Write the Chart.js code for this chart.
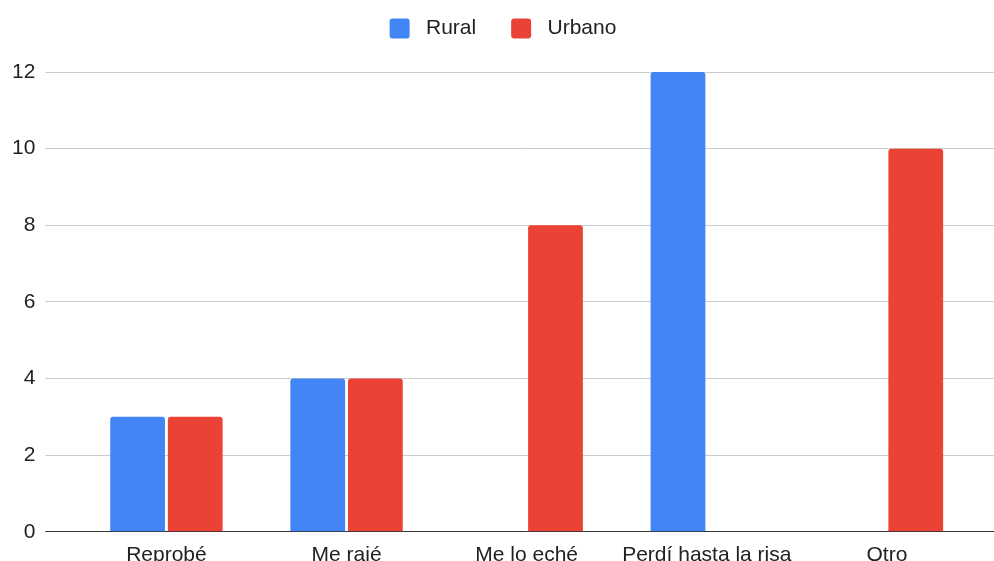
<!DOCTYPE html>
<html>
<head>
<meta charset="utf-8">
<script src="https://cdn.jsdelivr.net/npm/chart.js@4/dist/chart.umd.min.js"></script>
<style>
  html, body { margin: 0; padding: 0; background: #fff; overflow: hidden; }
  #wrap { width: 994px; height: 571px; position: relative; }
</style>
</head>
<body>
<div id="wrap"><canvas id="chart"></canvas></div>
<script>
const categories = ["Reprobé", "Me rajé", "Me lo eché", "Perdí hasta la risa", "Otro"];
const rural = [3, 4, null, 12, null];
const urbano = [3, 4, 8, null, 10];
const yTicks = [0, 2, 4, 6, 8, 10, 12];

const FONT = "Arial, 'Liberation Sans', sans-serif";
const gridColor = (c) => (c.tick && c.tick.value === 0 ? "#333333" : "#cccccc");

// extra room under the legend, and nudge it a bit right
const legendGap = {
  id: "legendGap",
  beforeInit(chart) {
    const fit = chart.legend.fit;
    chart.legend.fit = function () { fit.bind(chart.legend)(); this.height += 23; };
  },
  afterLayout(chart) {
    chart.legend.left += 5;
    chart.legend.right += 5;
  }
};

new Chart(document.getElementById("chart"), {
  type: "bar",
  data: {
    labels: categories,
    datasets: [
      { label: "Rural", data: rural, backgroundColor: "#4285f4",
        borderRadius: { topLeft: 3, topRight: 3 }, borderSkipped: "start" },
      { label: "Urbano", data: urbano, backgroundColor: "#ea4335",
        borderRadius: { topLeft: 3, topRight: 3 }, borderSkipped: "start" }
    ]
  },
  options: {
    responsive: true,
    maintainAspectRatio: false,
    animation: false,
    datasets: { bar: { categoryPercentage: 0.64, barPercentage: 0.95 } },
    layout: { padding: { left: 2, top: -17, right: 0, bottom: 0 } },
    plugins: {
      tooltip: { enabled: false },
      legend: {
        position: "top",
        align: "center",
        labels: {
          color: "#222222",
          font: { family: FONT, size: 21 },
          boxWidth: 20, boxHeight: 20,
          useBorderRadius: true, borderRadius: 3,
          padding: 35,
          generateLabels(chart) {
            return Chart.defaults.plugins.legend.labels.generateLabels(chart)
              .map(l => ({ ...l, text: " " + l.text }));
          }
        }
      }
    },
    scales: {
      x: {
        grid: { display: false },
        border: { display: false },
        ticks: { color: "#222222", font: { family: FONT, size: 21 }, padding: 3, maxRotation: 0, autoSkip: false }
      },
      y: {
        min: 0, max: 12,
        afterBuildTicks: (s) => { s.ticks = yTicks.map(v => ({ value: v })); },
        border: { display: false },
        grid: { color: gridColor, tickColor: gridColor, tickLength: 31 },
        ticks: { color: "#222222", font: { family: FONT, size: 21 }, padding: 10 }
      },
      y2: {
        position: "right",
        min: 0, max: 12,
        afterBuildTicks: (s) => { s.ticks = yTicks.map(v => ({ value: v })); },
        border: { display: false },
        grid: { drawOnChartArea: false, color: gridColor, tickColor: gridColor, tickLength: 17 },
        ticks: { display: false }
      }
    }
  },
  plugins: [legendGap]
});
</script>
</body>
</html>
